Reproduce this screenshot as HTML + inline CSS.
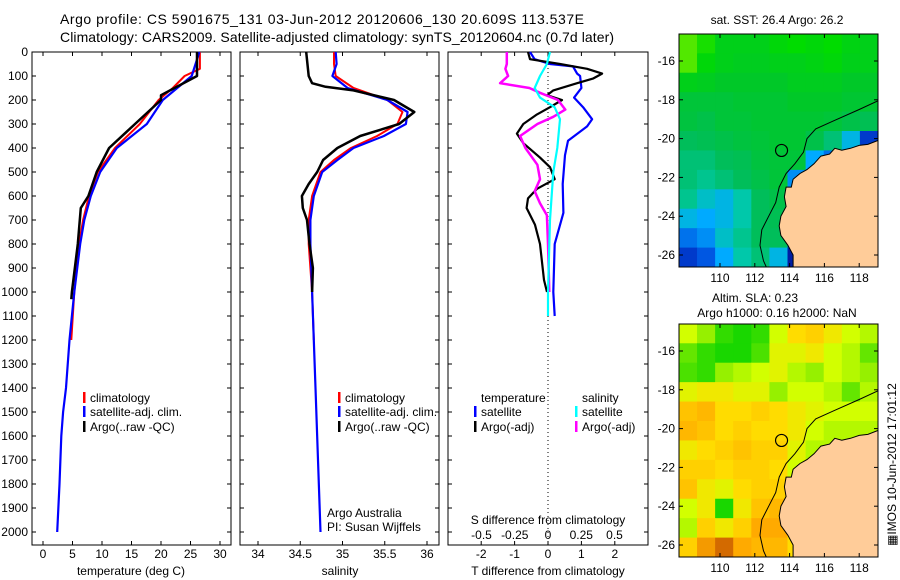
<!DOCTYPE html>
<html><head><meta charset="utf-8"><style>
html,body{margin:0;padding:0;background:#fff;}
svg{display:block;font-family:"Liberation Sans",sans-serif;}
text{font-size:12px;fill:#000;}
</style></head><body>
<svg id="fig" width="900" height="580" viewBox="0 0 900 580">
<text x="60" y="24" style="font-size:14px" textLength="524">Argo profile: CS 5901675_131 03-Jun-2012 20120606_130 20.609S 113.537E</text>
<text x="60" y="42" style="font-size:14px" textLength="554">Climatology: CARS2009. Satellite-adjusted climatology: synTS_20120604.nc (0.7d later)</text>
<g id="g"></g>
</svg>
<script>
// ---------- data ----------
const tempClimDepth=[0,70,100,150,200,300,400,500,600,700,800,1000,1200];
const tempClim=[26.6,26.6,24,22,19.6,16.4,12.2,9.3,7.8,6.8,6.1,5.3,4.8];
const tempSatDepth=[0,100,200,300,400,500,600,700,800,1000,1200,1400,1500,1600,1800,2000];
const tempSat=[26.5,25.2,20.3,17.6,12.5,9.7,8.1,7.0,6.3,5.3,4.5,3.9,3.4,3.1,2.8,2.4];
const tempArgoDepth=[0,100,180,200,300,400,500,600,650,800,1000,1030];
const tempArgo=[26.1,26.1,20,20,15.6,11.2,9.1,7.7,6.4,5.9,4.9,4.8];
const salClimDepth=[0,50,100,150,200,250,300,350,400,450,500,600,700,800,1000,1200];
const salClim=[34.9,34.9,34.92,35.13,35.53,35.71,35.65,35.41,35.1,34.9,34.74,34.64,34.6,34.6,34.64,34.66];
const salSatDepth=[0,50,100,150,200,250,300,350,400,450,500,600,700,800,1000,1400,2000];
const salSat=[34.92,34.93,34.88,35.06,35.53,35.77,35.75,35.49,35.13,34.94,34.76,34.66,34.62,34.62,34.64,34.68,34.74];
const salArgoDepth=[0,100,130,145,160,200,250,300,350,400,450,500,550,600,650,700,800,900,1000];
const salArgo=[34.57,34.6,34.64,34.8,35.13,35.61,35.85,35.67,35.21,34.94,34.77,34.7,34.6,34.52,34.53,34.58,34.61,34.65,34.64];
const dTSatDepth=[0,30,50,60,90,100,150,190,230,280,310,370,430,550,670,800,1000,1100];
const dTSat=[-0.54,-0.4,0.06,0.75,0.87,0.96,1.0,0.78,1.05,1.32,1.17,0.6,0.51,0.44,0.46,0.2,0.16,0.2];
const dTArgoDepth=[0,30,50,70,90,110,130,160,180,200,230,260,300,340,380,440,480,530,570,610,650,720,800,950,1000];
const dTArgo=[-0.6,-0.54,0.36,1.17,1.62,1.36,0.87,0.16,-0.03,0.42,0.06,-0.33,-0.74,-0.93,-0.74,-0.24,0.06,0.2,-0.33,-0.6,-0.64,-0.39,-0.24,-0.12,-0.03];
const dSSatDepth=[0,50,100,150,190,230,280,400,500,700,1000,1100];
const dSSat=[0.015,-0.008,-0.06,-0.1,-0.06,0.05,0.09,0.07,0.04,0.015,0,0];
const dSArgoDepth=[0,50,70,100,130,150,170,200,240,270,300,350,400,470,530,580,630,680,800,1000];
const dSArgo=[-0.31,-0.31,-0.32,-0.3,-0.36,-0.14,-0.06,0.075,0.13,0.04,-0.08,-0.21,-0.17,-0.08,-0.06,-0.1,-0.06,-0.008,0,0.01];
const depthTicks=[0,100,200,300,400,500,600,700,800,900,1000,1100,1200,1300,1400,1500,1600,1700,1800,1900,2000];
const tempTicks=[0,5,10,15,20,25,30];
const salTicks=[34,34.5,35,35.5,36];
const dTTicks=[-2,-1,0,1,2];
const dSTicks=[-0.5,-0.25,0,0.25,0.5];
const dSTickLabels=["-0.5","-0.25","0","0.25","0.5"];
const lonTicks=[110,112,114,116,118];
const latTicks=[-16,-18,-20,-22,-24,-26];
// map grids: rows from north (-14.6) to south, 11 cols from 107.64E
const sstGrid=[
[0.95,0.9,0.8,0.8,0.8,0.85,0.88,0.85,0.88,0.82,0.8],
[0.95,0.85,0.8,0.78,0.78,0.8,0.8,0.82,0.85,0.8,0.8],
[0.8,0.78,0.75,0.75,0.75,0.75,0.78,0.78,0.78,0.75,0.75],
[0.7,0.7,0.7,0.72,0.72,0.72,0.75,0.75,0.75,0.72,0.72],
[0.68,0.65,0.7,0.7,0.72,0.72,0.72,0.72,0.7,0.65,0.62],
[0.6,0.62,0.65,0.68,0.7,0.72,0.72,0.65,0.55,0.35,0.1],
[0.55,0.55,0.6,0.62,0.68,0.7,0.7,0.3,0.2,0.2,0.2],
[0.55,0.5,0.55,0.6,0.65,0.7,0.25,0.2,0.2,0.2,0.2],
[0.5,0.4,0.35,0.45,0.6,0.65,0.6,0.2,0.2,0.2,0.2],
[0.35,0.3,0.35,0.45,0.6,0.62,0.6,0.2,0.2,0.2,0.2],
[0.2,0.25,0.4,0.5,0.6,0.6,0.1,0.1,0.2,0.2,0.2],
[0.1,0.15,0.3,0.45,0.55,0.35,0.05,0.05,0.2,0.2,0.2]];
const slaGrid=[
[0.4,0.3,0.1,0.05,0.1,0.4,0.55,0.6,0.5,0.4,0.35],
[0.2,0.1,0.05,0.05,0.15,0.45,0.45,0.5,0.4,0.35,0.2],
[0.15,0.1,0.3,0.35,0.4,0.45,0.35,0.3,0.4,0.35,0.3],
[0.45,0.5,0.5,0.45,0.45,0.3,0.4,0.4,0.35,0.2,0.35],
[0.65,0.7,0.55,0.55,0.6,0.55,0.5,0.45,0.4,0.4,0.4],
[0.7,0.65,0.55,0.6,0.55,0.55,0.5,0.4,0.35,0.35,0.35],
[0.5,0.55,0.6,0.65,0.6,0.6,0.45,0.35,0.35,0.35,0.35],
[0.6,0.6,0.55,0.6,0.6,0.55,0.4,0.35,0.35,0.35,0.35],
[0.65,0.5,0.45,0.55,0.6,0.6,0.5,0.35,0.35,0.35,0.35],
[0.4,0.5,0.05,0.5,0.65,0.7,0.55,0.35,0.35,0.35,0.35],
[0.35,0.6,0.5,0.6,0.75,0.75,0.55,0.4,0.35,0.35,0.35],
[0.6,0.8,0.95,0.75,0.7,0.7,0.55,0.4,0.35,0.35,0.35]];
const landLon=[119.2,118.5,118,117.5,117,116.6,116.3,115.8,115.4,115,114.6,114.2,114.1,113.8,113.7,113.8,113.5,113.4,113.5,113.9,114.2,114.2,119.2];
const landLat=[-20.05,-20.3,-20.35,-20.5,-20.6,-20.5,-20.8,-20.9,-21.3,-21.6,-21.8,-22.1,-22.5,-22.5,-23,-23.5,-24,-24.5,-25,-25.5,-26,-26.7,-26.7];
const isoLon=[119.2,118,116.5,115.5,115,114.8,114.3,113.8,113.4,113.2,112.8,112.4,112.3,112.5,112.7];
const isoLat=[-18,-18.5,-19.1,-19.5,-20,-20.7,-21.3,-21.8,-22.5,-23.3,-24,-24.7,-25.5,-26.3,-26.7];
const argoLon=113.537, argoLat=-20.609;

// ---------- helpers ----------
const NS="http://www.w3.org/2000/svg";
const G=document.getElementById('g');
function mk(tag,attrs,parent){const e=document.createElementNS(NS,tag);for(const k in attrs)e.setAttribute(k,attrs[k]);(parent||G).appendChild(e);return e;}
function txt(x,y,s,anchor,parent){const t=mk('text',{x:x,y:y,'text-anchor':anchor||'start'},parent);t.textContent=s;return t;}
const yD=d=>52+0.24*d;
const xT=t=>43+t*5.9;
const xS=s=>258+(s-34)*84.5;
const xdT=t=>548+t*33.4;
const xdS=s=>548+s*133;
const PB=545, PT=52;
function panel(x0,x1,name){
  const r=mk('rect',{x:x0,y:PT,width:x1-x0,height:PB-PT,fill:'#fff',stroke:'#000','stroke-width':1});
  
  
  depthTicks.forEach(d=>{mk('line',{x1:x0,x2:x0+4,y1:yD(d),y2:yD(d),stroke:'#000'});mk('line',{x1:x1,x2:x1-4,y1:yD(d),y2:yD(d),stroke:'#000'});});
}
function xticks(vals,fx,labels,name){
  vals.forEach((v,i)=>{const x=fx(v);mk('line',{x1:x,x2:x,y1:PT,y2:PT+4,stroke:'#000'});mk('line',{x1:x,x2:x,y1:PB,y2:PB-4,stroke:'#000'});
  const t=txt(x,558,labels?labels[i]:String(v),'middle');
  
  });
}
function line(vals,depths,fx,color,w,name){
  const d=vals.map((v,i)=>(i?'L':'M')+fx(v).toFixed(1)+','+yD(depths[i]).toFixed(1)).join('');
  const p=mk('path',{d:d,fill:'none',stroke:color,'stroke-width':w,'stroke-linejoin':'round'});
  
  
}
function legend(x,y,color,label,name){
  mk('rect',{x:x,y:y-10,width:2.5,height:11,fill:color});
  const t=txt(x+7,y,label);
  
  
}

// ---------- temperature panel ----------
panel(32,231,'temperature-panel');
depthTicks.forEach(d=>{const t=txt(28,yD(d)+4,String(d),'end');});
xticks(tempTicks,xT,null,'temperature-tick-label');
line(tempClim,tempClimDepth,xT,'#f00',2,'temp-climatology-line');
line(tempSat,tempSatDepth,xT,'#00f',2.2,'temp-satellite-line');
line(tempArgo,tempArgoDepth,xT,'#000',2.5,'temp-argo-line');
legend(83,402,'#f00','climatology','legend-climatology');
legend(83,416,'#00f','satellite-adj. clim.','legend-satellite');
legend(83,431,'#000','Argo(..raw -QC)','legend-argo');
(function(){const t=txt(131,575,'temperature (deg C)','middle');})();

// ---------- salinity panel ----------
panel(240,439,'salinity-panel');
xticks(salTicks,xS,null,'salinity-tick-label');
line(salClim,salClimDepth,xS,'#f00',2,'sal-climatology-line');
line(salSat,salSatDepth,xS,'#00f',2.2,'sal-satellite-line');
line(salArgo,salArgoDepth,xS,'#000',2.5,'sal-argo-line');
legend(338,402,'#f00','climatology','legend-climatology');
legend(338,416,'#00f','satellite-adj. clim.','legend-satellite');
legend(338,431,'#000','Argo(..raw -QC)','legend-argo');
(function(){let t=txt(327,517,'Argo Australia');
t=txt(327,531,'PI: Susan Wijffels');
t=txt(340,575,'salinity','middle');})();

// ---------- difference panel ----------
panel(448,648,'difference-panel');
xticks(dTTicks,xdT,null,'t-diff-tick-label');
mk('line',{x1:548,x2:548,y1:PT,y2:537,stroke:'#000','stroke-width':1,'stroke-dasharray':'1,3'});
line(dTSat,dTSatDepth,xdT,'#00f',2.2,'t-diff-satellite-line');
line(dTArgo,dTArgoDepth,xdT,'#000',2.2,'t-diff-argo-line');
line(dSArgo,dSArgoDepth,xdS,'#f0f',2.5,'s-diff-argo-line');
line(dSSat,dSSatDepth,xdS,'#0ff',2.2,'s-diff-satellite-line');
(function(){let t=txt(481,402,'temperature');
t=txt(582,402,'salinity');})();
legend(474,416,'#00f','satellite','legend-t-satellite');
legend(474,431,'#000','Argo(-adj)','legend-t-argo');
legend(575,416,'#0ff','satellite','legend-s-satellite');
legend(575,431,'#f0f','Argo(-adj)','legend-s-argo');
(function(){let t=txt(548,524,'S difference from climatology','middle');
dSTicks.forEach((v,i)=>{const q=txt(xdS(v),539,dSTickLabels[i],'middle');});
t=txt(548,575,'T difference from climatology','middle');})();

// ---------- maps ----------
function cmap(stops,v){v=Math.max(0,Math.min(1,v));for(let i=1;i<stops.length;i++){if(v<=stops[i][0]){const a=stops[i-1],b=stops[i],f=(v-a[0])/(b[0]-a[0]||1);const c=[0,1,2].map(k=>Math.round(a[1][k]+(b[1][k]-a[1][k])*f));return 'rgb('+c.join(',')+')';}}return 'rgb('+stops[stops.length-1][1].join(',')+')';}
const sstStops=[[0,[0,0,120]],[0.12,[0,70,220]],[0.3,[0,170,255]],[0.45,[0,200,170]],[0.6,[0,190,90]],[0.75,[0,200,40]],[0.88,[0,220,0]],[1,[140,240,0]]];
const slaStops=[[0,[0,210,0]],[0.3,[150,240,0]],[0.4,[210,255,0]],[0.55,[255,220,0]],[0.75,[255,170,0]],[1,[200,90,0]]];
function drawMap(top,grid,stops,name){
  const L=679,R=878,T=top,B=top+233;
  const lonX=lon=>720+(lon-110)*17.4;
  const latY=lat=>top+27+(-16-lat)*19.4;
  const g=mk('g',{});
  
  
  const lon0=107.64, dLon=(119.08-107.64)/11, lat0=-14.6, dLat=12.02/12;
  grid.forEach((row,r)=>row.forEach((v,c)=>{
    const x=lonX(lon0+c*dLon), y=latY(lat0-r*dLat);
    const cell=mk('rect',{x:x,y:y,width:lonX(lon0+(c+1)*dLon)-x+0.5,height:latY(lat0-(r+1)*dLat)-y+0.5,fill:cmap(stops,v)},g);
    
    
  }));
  const land=mk('path',{d:landLon.map((lo,i)=>(i?'L':'M')+lonX(lo).toFixed(1)+','+latY(landLat[i]).toFixed(1)).join('')+'Z',fill:'#fc9','stroke':'#000','stroke-width':1},g);
  
  
  const iso=mk('path',{d:isoLon.map((lo,i)=>(i?'L':'M')+lonX(lo).toFixed(1)+','+latY(isoLat[i]).toFixed(1)).join(''),fill:'none',stroke:'#000','stroke-width':1},g);
  
  
  mk('rect',{x:R,y:T-2,width:30,height:B-T+4,fill:'#fff'},g);
  mk('rect',{x:L-30,y:B,width:260,height:10,fill:'#fff'},g);
  const ci=mk('circle',{cx:lonX(argoLon),cy:latY(argoLat),r:6,fill:'none',stroke:'#000','stroke-width':1.2},g);
  
  
  mk('rect',{x:L,y:T,width:R-L,height:B-T,fill:'none',stroke:'#000','stroke-width':1},g);
  lonTicks.forEach(lo=>{const x=lonX(lo);mk('line',{x1:x,x2:x,y1:T,y2:T+4,stroke:'#000'},g);mk('line',{x1:x,x2:x,y1:B,y2:B-4,stroke:'#000'},g);
    const t=txt(x,B+15,String(lo),'middle',g);});
  latTicks.forEach(la=>{const y=latY(la);mk('line',{x1:L,x2:L+4,y1:y,y2:y,stroke:'#000'},g);mk('line',{x1:R,x2:R-4,y1:y,y2:y,stroke:'#000'},g);
    const t=txt(L-4,y+4,String(la),'end',g);});
}
drawMap(34,sstGrid,sstStops,'sst-map');
drawMap(324,slaGrid,slaStops,'sla-map');
(function(){let t=txt(777,24,'sat. SST: 26.4 Argo: 26.2','middle');
t=txt(755,302,'Altim. SLA: 0.23','middle');
t=txt(777,317,'Argo h1000: 0.16 h2000: NaN','middle');
t=txt(0,0,'\u25A6IMOS 10-Jun-2012 17:01:12','start');t.setAttribute('transform','translate(896,546) rotate(-90)');})();
</script>
</body></html>
